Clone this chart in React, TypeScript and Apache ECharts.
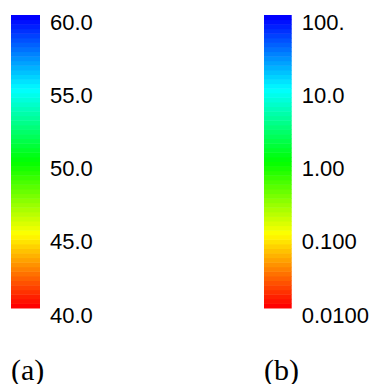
import React, { useEffect, useRef } from "react";
import * as echarts from "echarts";

// Tick values and their printed labels
const TICKS_A = [40, 45, 50, 55, 60];
const LABELS_A = ["40.0", "45.0", "50.0", "55.0", "60.0"];
const TICKS_B = [0.01, 0.1, 1, 10, 100];
const LABELS_B = ["0.0100", "0.100", "1.00", "10.0", "100."];
// Colour map stops, bottom to top
const COLOR_STOPS = ["#ff0000", "#ffff00", "#00ff00", "#00ffff", "#0000ff"];
const N_BANDS = 64;
const PANEL_LABELS = ["(a)", "(b)"];

function bandsLinear(min: number, max: number) {
  const out: number[][] = [];
  for (let k = 0; k < N_BANDS; k++) {
    const lo = min + ((max - min) * k) / N_BANDS;
    const hi = min + ((max - min) * (k + 1)) / N_BANDS;
    out.push([lo, hi, k / (N_BANDS - 1)]);
  }
  return out;
}
function bandsLog(min: number, max: number) {
  const a = Math.log10(min);
  const b = Math.log10(max);
  const out: number[][] = [];
  for (let k = 0; k < N_BANDS; k++) {
    const lo = Math.pow(10, a + ((b - a) * k) / N_BANDS);
    const hi = Math.pow(10, a + ((b - a) * (k + 1)) / N_BANDS);
    out.push([lo, hi, k / (N_BANDS - 1)]);
  }
  return out;
}

function makeFormatter(ticks: number[], labels: string[], log: boolean) {
  return (v: number) => {
    let best = 0;
    let bd = Infinity;
    ticks.forEach((t, i) => {
      const d = log ? Math.abs(Math.log10(v) - Math.log10(t)) : Math.abs(v - t);
      if (d < bd) {
        bd = d;
        best = i;
      }
    });
    return labels[best];
  };
}

const renderBand = (params: any, api: any) => {
  const lo = api.value(0);
  const hi = api.value(1);
  const p0 = api.coord([0, lo]);
  const p1 = api.coord([1, hi]);
  return {
    type: "rect",
    shape: { x: p0[0], y: p1[1], width: p1[0] - p0[0], height: p0[1] - p1[1] + 0.5 },
    style: { fill: api.visual("color") },
  };
};

export default function App() {
  const ref = useRef<HTMLDivElement>(null);
  useEffect(() => {
    const chart = echarts.init(ref.current!, null, { renderer: "svg" });
    const labelStyle = {
      color: "#000",
      fontSize: 22,
      fontFamily: '"Liberation Sans", Arial, sans-serif',
      margin: 10,
      verticalAlign: "top",
      lineHeight: 14,
      showMinLabel: true,
      showMaxLabel: true,
    };
    const hiddenX = {
      type: "value",
      min: 0,
      max: 1,
      show: false,
    };
    const panelFont = '30px "Liberation Serif", "Times New Roman", serif';
    chart.setOption({
      animation: false,
      grid: [
        { left: 11, top: 15, width: 29, height: 293 },
        { left: 264, top: 15, width: 29, height: 293 },
      ],
      xAxis: [
        { ...hiddenX, gridIndex: 0 },
        { ...hiddenX, gridIndex: 1 },
      ],
      yAxis: [
        {
          gridIndex: 0,
          type: "value",
          min: 40,
          max: 60,
          interval: 5,
          position: "right",
          axisLine: { show: false },
          axisTick: { show: false },
          splitLine: { show: false },
          axisLabel: { ...labelStyle, formatter: makeFormatter(TICKS_A, LABELS_A, false) },
        },
        {
          gridIndex: 1,
          type: "log",
          logBase: 10,
          min: 0.01,
          max: 100,
          position: "right",
          axisLine: { show: false },
          axisTick: { show: false },
          splitLine: { show: false },
          axisLabel: { ...labelStyle, formatter: makeFormatter(TICKS_B, LABELS_B, true) },
        },
      ],
      visualMap: [
        {
          type: "continuous",
          show: false,
          min: 0,
          max: 1,
          dimension: 2,
          seriesIndex: [0, 1],
          inRange: { color: COLOR_STOPS },
        },
      ],
      series: [
        {
          type: "custom",
          xAxisIndex: 0,
          yAxisIndex: 0,
          renderItem: renderBand,
          data: bandsLinear(40, 60),
          silent: true,
        },
        {
          type: "custom",
          xAxisIndex: 1,
          yAxisIndex: 1,
          renderItem: renderBand,
          data: bandsLog(0.01, 100),
          silent: true,
        },
      ],
      graphic: [
        {
          type: "text",
          left: 11,
          top: 354,
          style: { text: PANEL_LABELS[0], font: panelFont, fill: "#000" },
        },
        {
          type: "text",
          left: 264,
          top: 354,
          style: { text: PANEL_LABELS[1], font: panelFont, fill: "#000" },
        },
      ],
    });
    return () => chart.dispose();
  }, []);
  return (
    <div
      ref={ref}
      style={{ position: "absolute", left: 0, top: 0, width: 372, height: 384 }}
    />
  );
}
